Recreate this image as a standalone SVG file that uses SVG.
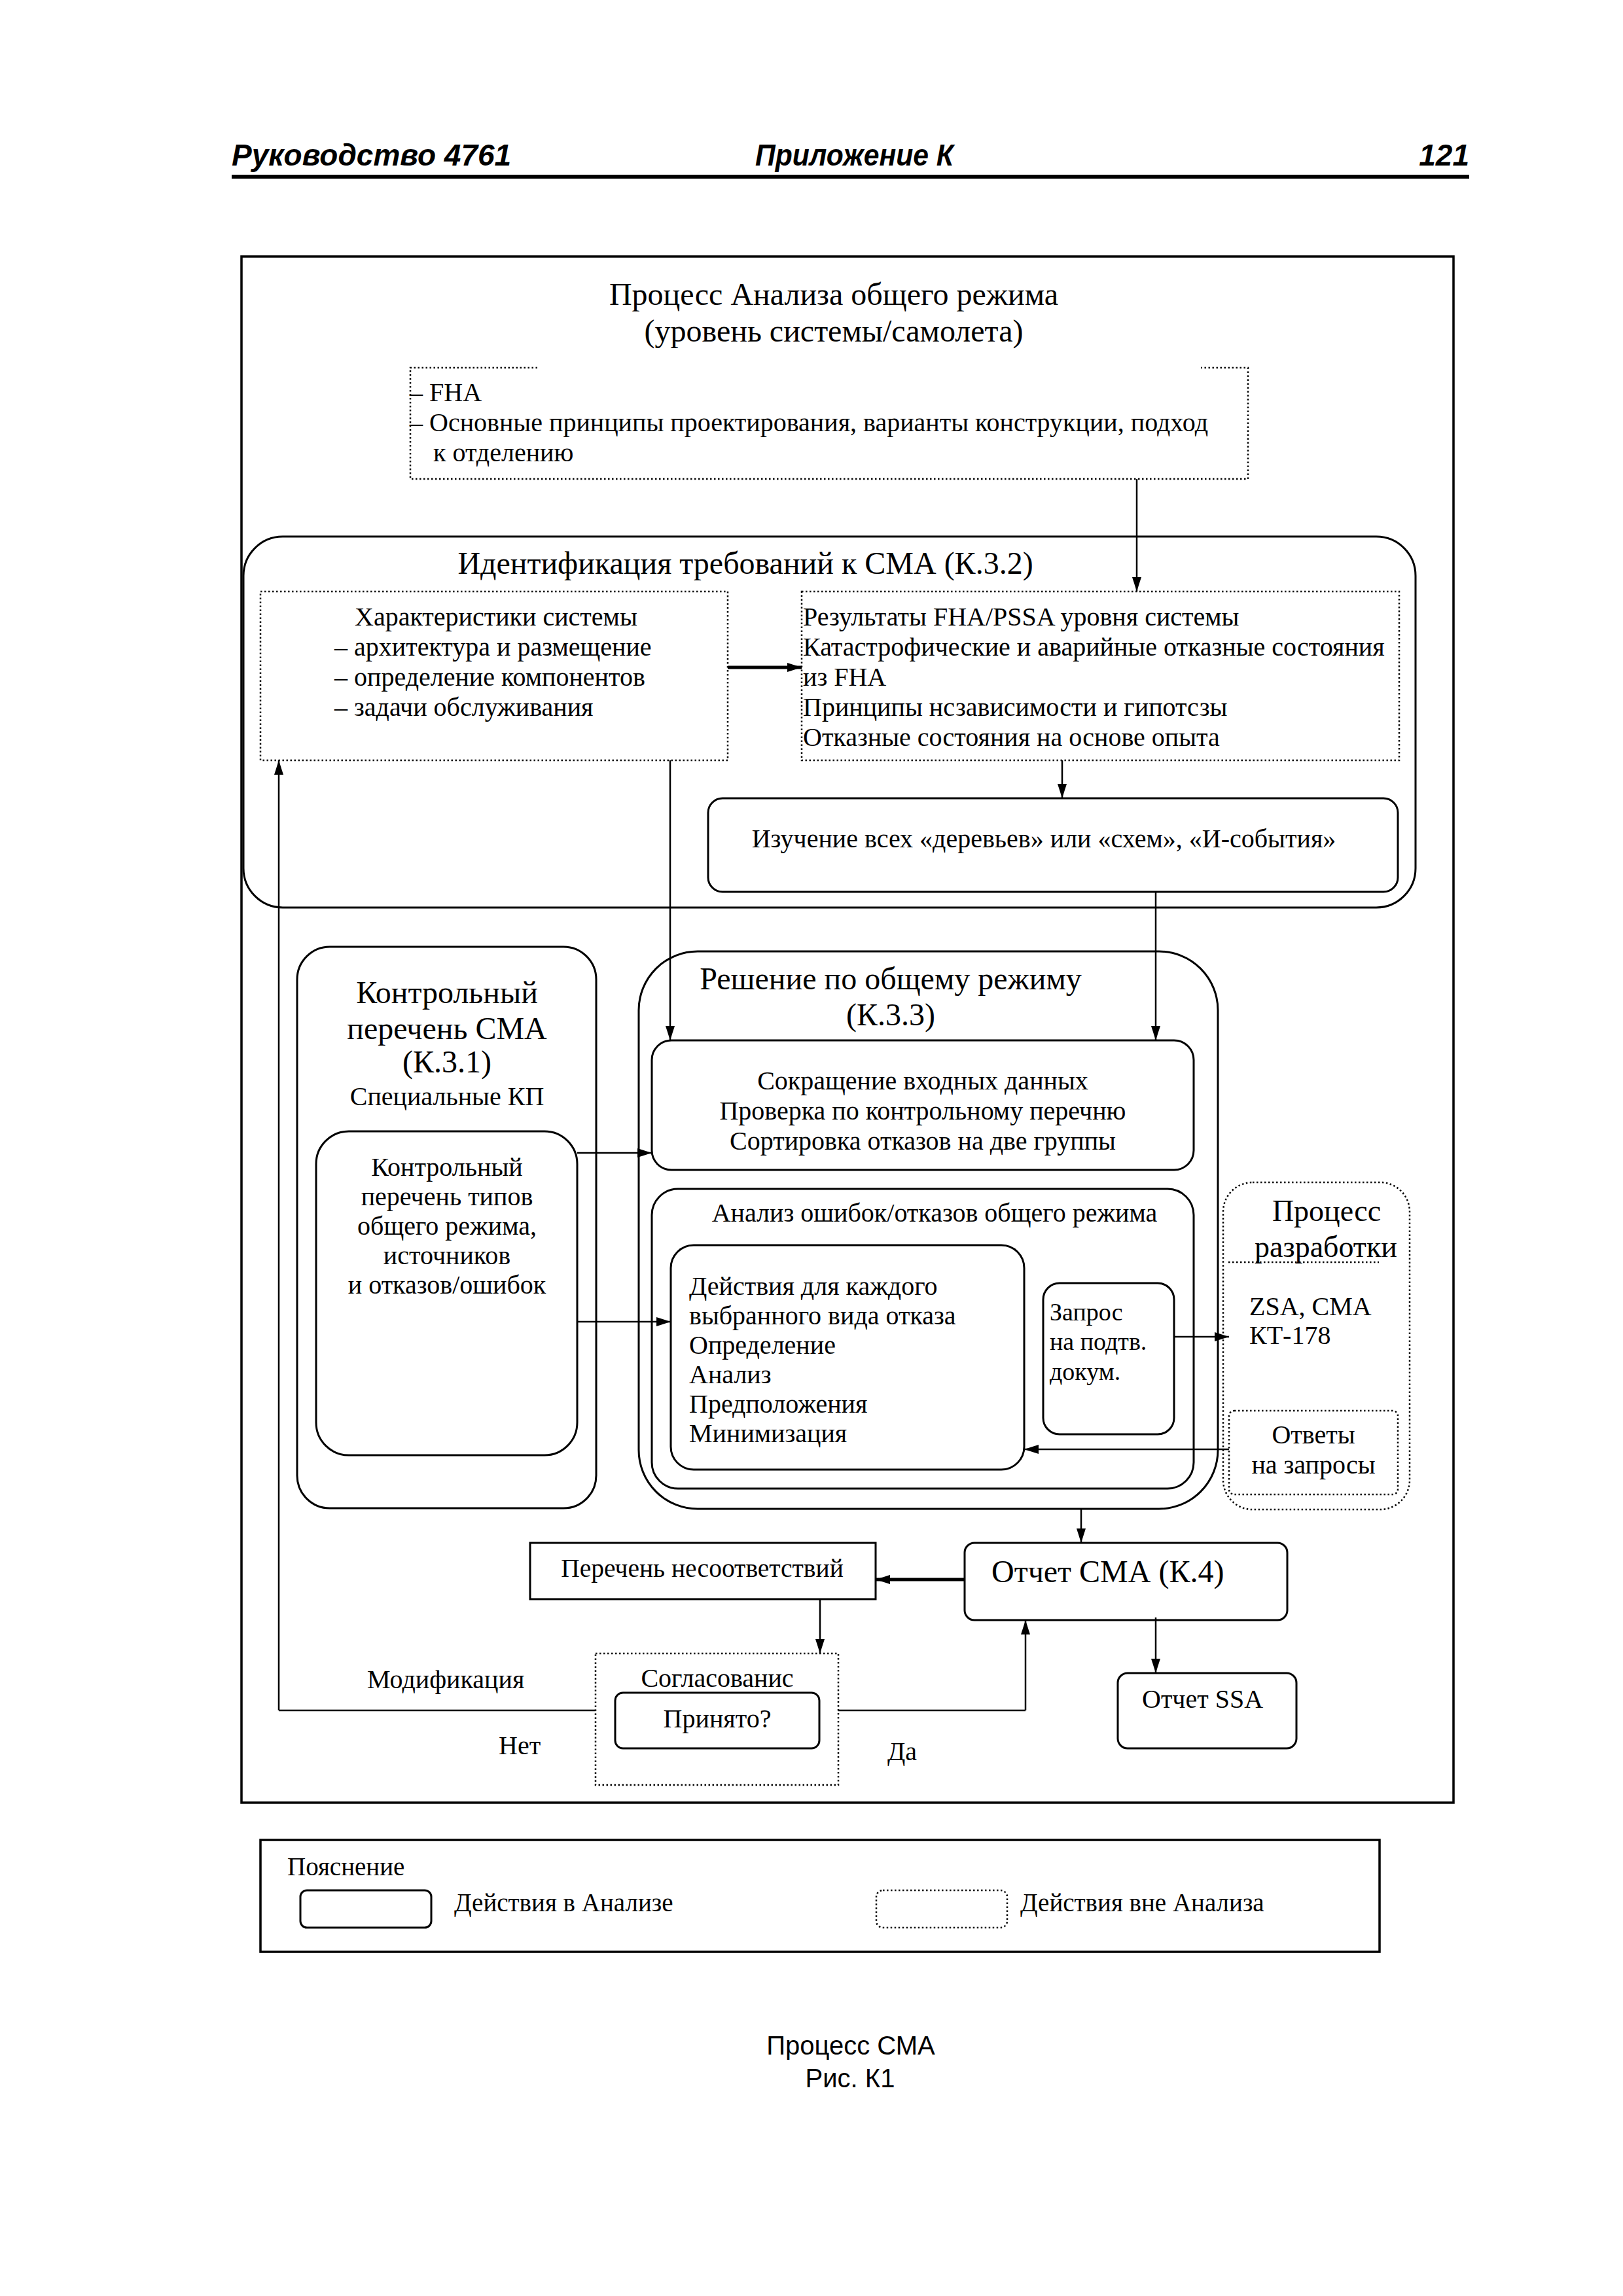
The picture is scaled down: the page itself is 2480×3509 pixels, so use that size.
<svg xmlns="http://www.w3.org/2000/svg" width="2480" height="3509" viewBox="0 0 2480 3509">
<style>
.t{font-family:"Liberation Serif","Times New Roman",serif;fill:#000}
.h{font-size:48px}
.b{font-size:40px}
.s{font-size:38px}
.l{font-size:39px}
.m{text-anchor:middle}
.hd{font-family:"Liberation Sans",Arial,sans-serif;font-weight:bold;font-style:italic;font-size:46px;fill:#000}
.cap{font-family:"Liberation Sans",Arial,sans-serif;font-size:40px;fill:#000;text-anchor:middle}
.solid{fill:none;stroke:#000;stroke-width:3}
.dot{fill:none;stroke:#000;stroke-width:2.5;stroke-dasharray:2.5 3.5}
.ln{fill:none;stroke:#000;stroke-width:2.5}
.tk{fill:none;stroke:#000;stroke-width:5}
</style>
<defs>
<marker id="ar" viewBox="0 0 22 14" refX="22" refY="7" markerWidth="22" markerHeight="14" markerUnits="userSpaceOnUse" orient="auto">
<path d="M0,0 L22,7 L0,14 z" fill="#000"/>
</marker>
</defs>
<rect width="2480" height="3509" fill="#fff"/>

<g id="header">
<text class="hd" x="354" y="253">Руководство 4761</text>
<text class="hd" x="1154" y="253" textLength="303" lengthAdjust="spacingAndGlyphs">Приложение К</text>
<text class="hd" x="2245" y="253" text-anchor="end">121</text>
<line x1="354" y1="270" x2="2245" y2="270" stroke="#000" stroke-width="6"/>
</g>

<g id="frame">
<rect x="369" y="392" width="1852" height="2363" fill="none" stroke="#000" stroke-width="3.5"/>
<text class="t h m" x="1274" y="466">Процесс Анализа общего режима</text>
<text class="t h m" x="1274" y="522">(уровень системы/самолета)</text>
</g>

<g id="fha">
<path class="dot" d="M821,562 H627 V732 H1907 V562 H1835"/>
<text class="t b" x="626" y="613">– FHA</text>
<text class="t b" x="626" y="659">– Основные принципы проектирования, варианты конструкции, подход</text>
<text class="t b" x="662" y="705">к отделению</text>
</g>

<g id="identification">
<rect class="solid" x="372" y="820" width="1791" height="567" rx="60" ry="60"/>
<text class="t h m" x="1139" y="877">Идентификация требований к СМА (К.3.2)</text>
</g>

<g id="system-characteristics">
<rect class="dot" x="398" y="904" width="714" height="258"/>
<text class="t b" x="542" y="956">Характеристики системы</text>
<text class="t b" x="511" y="1002">– архитектура и размещение</text>
<text class="t b" x="511" y="1048">– определение компонентов</text>
<text class="t b" x="511" y="1094">– задачи обслуживания</text>
</g>

<g id="fha-results">
<rect class="dot" x="1225" y="904" width="913" height="258"/>
<text class="t b" x="1227" y="956">Результаты FHA/PSSA уровня системы</text>
<text class="t b" x="1227" y="1002">Катастрофические и аварийные отказные состояния</text>
<text class="t b" x="1227" y="1048">из FHA</text>
<text class="t b" x="1227" y="1094">Принципы нсзависимости и гипотсзы</text>
<text class="t b" x="1227" y="1140">Отказные состояния на основе опыта</text>
</g>

<g id="trees-study">
<rect class="solid" x="1082" y="1220" width="1054" height="143" rx="22" ry="22"/>
<text class="t b m" x="1595" y="1295">Изучение всех «деревьев» или «схем», «И-события»</text>
</g>

<g id="checklist">
<rect class="solid" x="454" y="1447" width="457" height="858" rx="50" ry="50"/>
<text class="t h m" x="683" y="1533">Контрольный</text>
<text class="t h m" x="683" y="1588">перечень СМА</text>
<text class="t h m" x="683" y="1639">(К.3.1)</text>
<text class="t b m" x="683" y="1689">Специальные КП</text>
</g>

<g id="checklist-types">
<rect class="solid" x="483" y="1729" width="399" height="495" rx="50" ry="50"/>
<text class="t b m" x="683" y="1797">Контрольный</text>
<text class="t b m" x="683" y="1842">перечень типов</text>
<text class="t b m" x="683" y="1887">общего режима,</text>
<text class="t b m" x="683" y="1932">источников</text>
<text class="t b m" x="683" y="1977">и отказов/ошибок</text>
</g>

<g id="decision">
<rect class="solid" x="976" y="1454" width="885" height="852" rx="90" ry="90"/>
<text class="t h m" x="1361" y="1512">Решение по общему режиму</text>
<text class="t h m" x="1361" y="1567">(К.3.3)</text>
</g>

<g id="reduction">
<rect class="solid" x="996" y="1590" width="828" height="198" rx="30" ry="30"/>
<text class="t b m" x="1410" y="1665">Сокращение входных данных</text>
<text class="t b m" x="1410" y="1711">Проверка по контрольному перечню</text>
<text class="t b m" x="1410" y="1757">Сортировка отказов на две группы</text>
</g>

<g id="failure-analysis">
<rect class="solid" x="996" y="1817" width="828" height="458" rx="40" ry="40"/>
<text class="t b m" x="1428" y="1867">Анализ ошибок/отказов общего режима</text>
</g>

<g id="actions">
<rect class="solid" x="1025" y="1903" width="540" height="343" rx="35" ry="35"/>
<text class="t b" x="1053" y="1979">Действия для каждого</text>
<text class="t b" x="1053" y="2024">выбранного вида отказа</text>
<text class="t b" x="1053" y="2069">Определение</text>
<text class="t b" x="1053" y="2114">Анализ</text>
<text class="t b" x="1053" y="2159">Предположения</text>
<text class="t b" x="1053" y="2204">Минимизация</text>
</g>

<g id="request">
<rect class="solid" x="1594" y="1961" width="200" height="231" rx="25" ry="25"/>
<text class="t s" x="1604" y="2018">Запрос</text>
<text class="t s" x="1604" y="2063">на подтв.</text>
<text class="t s" x="1604" y="2109">докум.</text>
</g>

<g id="dev-process">
<rect class="dot" x="1869" y="1807" width="285" height="500" rx="45" ry="45"/>
<text class="t m" x="2027" y="1866" font-size="46">Процесс</text>
<text class="t m" x="2026" y="1921" font-size="46">разработки</text>
<line class="dot" x1="1877" y1="1929" x2="2107" y2="1929"/>
<text class="t b" x="1909" y="2010">ZSA, СМА</text>
<text class="t b" x="1909" y="2054">КТ-178</text>
</g>

<g id="answers">
<rect class="dot" x="1878" y="2156" width="258" height="128" rx="8" ry="8"/>
<text class="t b m" x="2007" y="2206">Ответы</text>
<text class="t b m" x="2007" y="2252">на запросы</text>
</g>

<g id="nonconformity">
<rect class="solid" x="810" y="2358" width="528" height="86"/>
<text class="t m" x="1073" y="2410" font-size="39.5">Перечень несоответствий</text>
</g>

<g id="cma-report">
<rect class="solid" x="1474" y="2358" width="493" height="118" rx="15" ry="15"/>
<text class="t h" x="1515" y="2418">Отчет СМА (К.4)</text>
</g>

<g id="agreement">
<rect class="dot" x="910" y="2527" width="371" height="201"/>
<text class="t b m" x="1096" y="2578">Согласованис</text>
</g>

<g id="accepted">
<rect class="solid" x="940" y="2587" width="312" height="85" rx="12" ry="12"/>
<text class="t b m" x="1096" y="2640">Принято?</text>
</g>

<g id="ssa-report">
<rect class="solid" x="1708" y="2557" width="273" height="115" rx="15" ry="15"/>
<text class="t b" x="1745" y="2610">Отчет SSA</text>
</g>

<g id="connectors">
<line class="ln" x1="1737" y1="732" x2="1737" y2="904" marker-end="url(#ar)"/>
<line class="tk" x1="1112" y1="1020" x2="1225" y2="1020" marker-end="url(#ar)"/>
<line class="ln" x1="1623" y1="1162" x2="1623" y2="1220" marker-end="url(#ar)"/>
<line class="ln" x1="1024" y1="1162" x2="1024" y2="1590" marker-end="url(#ar)"/>
<line class="ln" x1="1766" y1="1363" x2="1766" y2="1590" marker-end="url(#ar)"/>
<line class="ln" x1="426" y1="2614" x2="426" y2="1162" marker-end="url(#ar)"/>
<line class="ln" x1="882" y1="1762" x2="996" y2="1762" stroke-width="4" marker-end="url(#ar)"/>
<line class="ln" x1="882" y1="2020" x2="1025" y2="2020" stroke-width="4" marker-end="url(#ar)"/>
<line class="ln" x1="1794" y1="2043" x2="1878" y2="2043" stroke-width="4" marker-end="url(#ar)"/>
<line class="ln" x1="1878" y1="2215" x2="1565" y2="2215" stroke-width="3" marker-end="url(#ar)"/>
<line class="ln" x1="1652" y1="2306" x2="1652" y2="2358" marker-end="url(#ar)"/>
<line class="tk" x1="1474" y1="2414" x2="1338" y2="2414" marker-end="url(#ar)"/>
<line class="ln" x1="1253" y1="2444" x2="1253" y2="2527" marker-end="url(#ar)"/>
<line class="ln" x1="910" y1="2614" x2="426" y2="2614" stroke-width="4.5"/>
<line class="ln" x1="1281" y1="2614" x2="1567" y2="2614" stroke-width="4.5"/>
<line class="ln" x1="1567" y1="2614" x2="1567" y2="2476" marker-end="url(#ar)"/>
<line class="ln" x1="1766" y1="2472" x2="1766" y2="2557" marker-end="url(#ar)"/>
<text class="t b" x="561" y="2580">Модификация</text>
<text class="t b" x="762" y="2681">Нет</text>
<text class="t b" x="1356" y="2690">Да</text>
</g>

<g id="legend">
<rect x="398" y="2812" width="1710" height="171" fill="none" stroke="#000" stroke-width="3.5"/>
<text class="t l" x="439" y="2866">Пояснение</text>
<rect class="solid" x="459" y="2889" width="200" height="57" rx="10" ry="10"/>
<text class="t l" x="694" y="2921">Действия в Анализе</text>
<rect class="dot" x="1339" y="2889" width="200" height="57" rx="10" ry="10"/>
<text class="t l" x="1559" y="2921">Действия вне Анализа</text>
</g>

<g id="caption">
<text class="cap" x="1300" y="3140">Процесс СМА</text>
<text class="cap" x="1299" y="3190">Рис. К1</text>
</g>
</svg>
